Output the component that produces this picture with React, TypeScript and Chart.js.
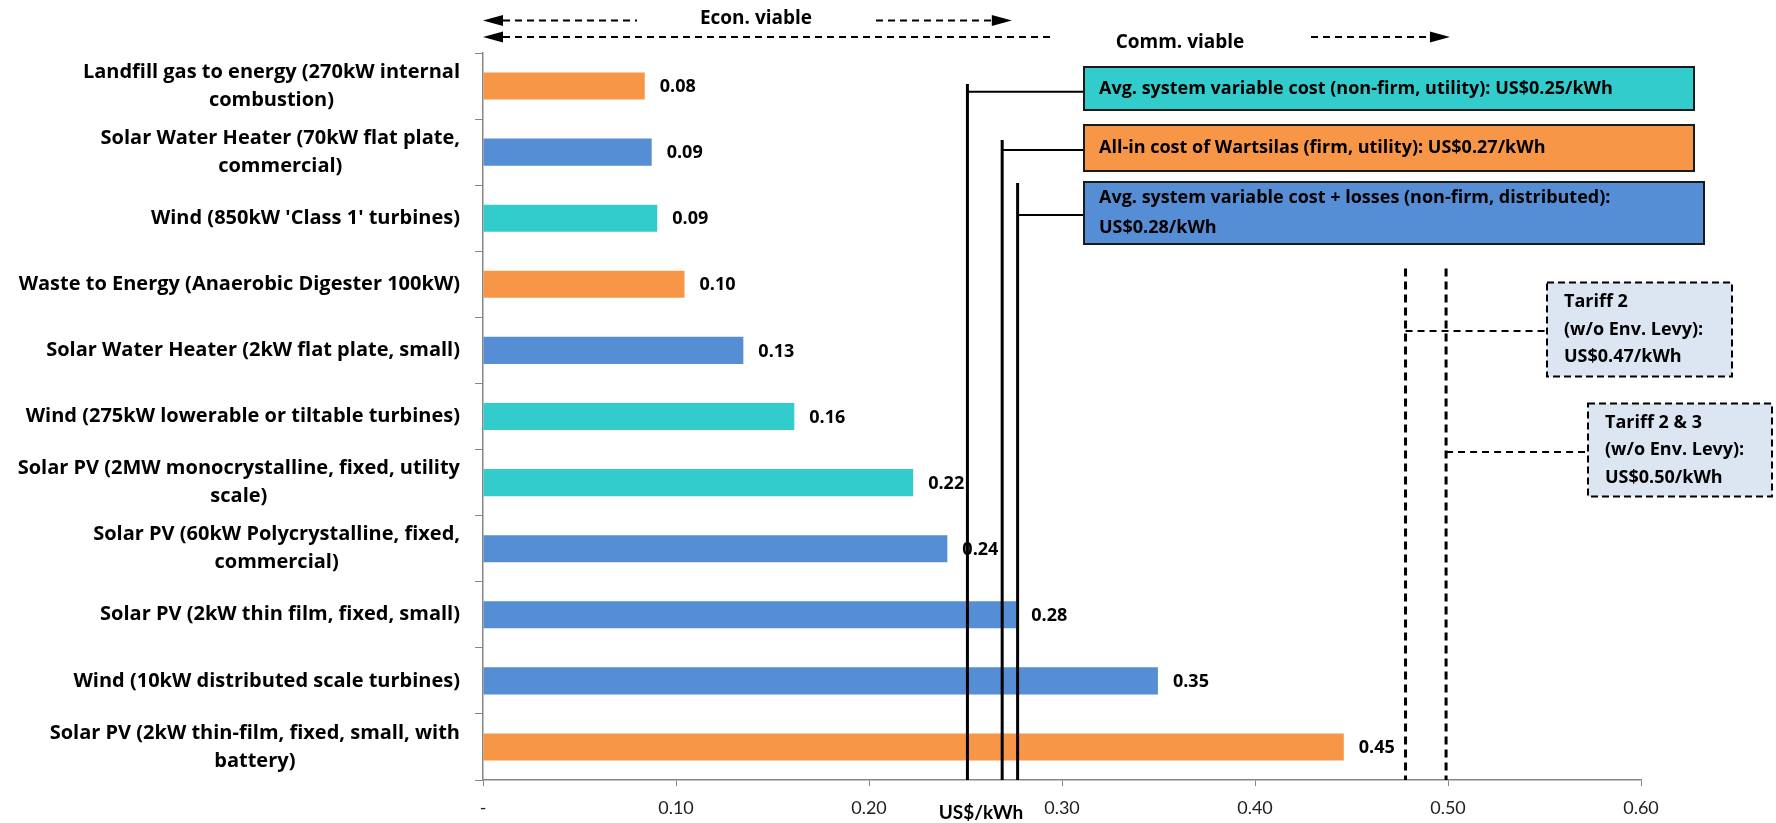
import React, { useEffect, useRef } from "react";
import { Chart, registerables } from "chart.js";

Chart.register(...registerables);

// ---------- data ----------
const categories: string[][] = [
  ["Landfill gas to energy (270kW internal", "combustion)"],
  ["Solar Water Heater (70kW flat plate,", "commercial)"],
  ["Wind (850kW 'Class 1' turbines)"],
  ["Waste to Energy (Anaerobic Digester 100kW)"],
  ["Solar Water Heater (2kW flat plate, small)"],
  ["Wind (275kW lowerable or tiltable turbines)"],
  ["Solar PV (2MW monocrystalline, fixed, utility", "scale)"],
  ["Solar PV (60kW Polycrystalline, fixed,", "commercial)"],
  ["Solar PV (2kW thin film, fixed, small)"],
  ["Wind (10kW distributed scale turbines)"],
  ["Solar PV (2kW thin-film, fixed, small, with", "battery)"],
];
const costs = [0.0838, 0.0874, 0.0903, 0.1044, 0.1349, 0.1613, 0.2229, 0.2406, 0.2763, 0.3497, 0.446];
const costLabels = ["0.08", "0.09", "0.09", "0.10", "0.13", "0.16", "0.22", "0.24", "0.28", "0.35", "0.45"];
const groups = ["firm", "dist", "utility", "firm", "dist", "utility", "utility", "dist", "dist", "dist", "firm"];
const xTickValues = [0, 0.1, 0.2, 0.3, 0.4, 0.5, 0.6];
const xTickLabels = ["-", "0.10", "0.20", "0.30", "0.40", "0.50", "0.60"];

const refValues = [0.251, 0.269, 0.277];
const refTexts: string[][] = [
  ["Avg. system variable cost (non-firm, utility): US$0.25/kWh"],
  ["All-in cost of Wartsilas (firm, utility): US$0.27/kWh"],
  ["Avg. system variable cost + losses (non-firm, distributed):", "US$0.28/kWh"],
];
const refGroups = ["utility", "firm", "dist"];

const tariffValues = [0.478, 0.499];
const tariffTexts: string[][] = [
  ["Tariff 2", "(w/o Env. Levy):", "US$0.47/kWh"],
  ["Tariff 2 & 3", "(w/o Env. Levy):", "US$0.50/kWh"],
];

const econRange = [0, 0.274];
const commRange = [0, 0.501];
const commLeftEnd = 0.294;
const axisTitle = "US$/kWh";

// ---------- styles ----------
const COLORS: Record<string, string> = {
  firm: "#F79646",
  dist: "#558ED5",
  utility: "#33CCCC",
};
const FAMILY = "'Open Sans', Lato, sans-serif";
const NUM_FAMILY = "Lato, 'Open Sans', sans-serif";
const AXIS_GRAY = "#868686";

// annotation layout (pixels)
const LABEL_RIGHT = 460;
const refLineTops = [84, 140, 183];
const refConnY = [91.7, 150, 215];
const refBoxes = [
  [1084, 67, 610, 43],
  [1084, 125, 610, 46],
  [1084, 182, 620, 62],
];
const tariffTop = 268.5;
const tariffConnY = [331, 452];
const tariffBoxes = [
  [1547, 282.5, 185, 94],
  [1588, 403.5, 184, 93],
];

function drawArrowHead(ctx: CanvasRenderingContext2D, tipX: number, y: number, dir: number) {
  const len = 20, half = 5.5;
  ctx.beginPath();
  ctx.moveTo(tipX, y);
  ctx.lineTo(tipX - dir * len, y - half);
  ctx.lineTo(tipX - dir * len, y + half);
  ctx.closePath();
  ctx.fill();
}

function dashedH(ctx: CanvasRenderingContext2D, x1: number, x2: number, y: number, w = 2, dash = [7, 5]) {
  ctx.save();
  ctx.setLineDash(dash);
  ctx.lineWidth = w;
  ctx.beginPath();
  ctx.moveTo(x1, y);
  ctx.lineTo(x2, y);
  ctx.stroke();
  ctx.restore();
}

const overlay = {
  id: "overlay",
  afterDraw(chart: any) {
    const { ctx, scales } = chart;
    const x = scales.x;
    const y = scales.y;
    ctx.save();

    // category labels
    ctx.font = `bold 20px ${FAMILY}`;
    ctx.fillStyle = "#000";
    ctx.textBaseline = "middle";
    ctx.textAlign = "center";
    categories.forEach((lines, i) => {
      const cy = y.getPixelForValue(i);
      const widest = Math.max(...lines.map((l) => ctx.measureText(l).width));
      const cx = LABEL_RIGHT - widest / 2;
      lines.forEach((l, j) => ctx.fillText(l, cx, cy + (j - (lines.length - 1) / 2) * 28));
    });

    // value labels
    ctx.textAlign = "left";
    ctx.font = `bold 18px ${FAMILY}`;
    costs.forEach((v, i) => {
      ctx.fillText(costLabels[i], x.getPixelForValue(v) + 15, y.getPixelForValue(i) + 1);
    });

    const bottom = chart.chartArea.bottom;

    // reference solid lines + boxes
    ctx.strokeStyle = "#000";
    refValues.forEach((v, i) => {
      const px = x.getPixelForValue(v);
      ctx.lineWidth = 3;
      ctx.beginPath();
      ctx.moveTo(px, refLineTops[i]);
      ctx.lineTo(px, bottom);
      ctx.stroke();
      const [bx, by, bw, bh] = refBoxes[i];
      ctx.lineWidth = 2;
      ctx.beginPath();
      ctx.moveTo(px, refConnY[i]);
      ctx.lineTo(bx, refConnY[i]);
      ctx.stroke();
      ctx.fillStyle = COLORS[refGroups[i]];
      ctx.fillRect(bx, by, bw, bh);
      ctx.strokeStyle = "#1a1a1a";
      ctx.strokeRect(bx, by, bw, bh);
      ctx.strokeStyle = "#000";
      ctx.fillStyle = "#000";
      ctx.font = `bold 18px ${FAMILY}`;
      ctx.textAlign = "left";
      const lines = refTexts[i];
      lines.forEach((l, j) => ctx.fillText(l, bx + 15, by + bh / 2 + (j - (lines.length - 1) / 2) * 30));
    });

    // tariff dashed lines + boxes
    tariffValues.forEach((v) => {
      const px = x.getPixelForValue(v);
      ctx.save();
      ctx.setLineDash([8, 5]);
      ctx.lineWidth = 3;
      ctx.beginPath();
      ctx.moveTo(px, tariffTop);
      ctx.lineTo(px, bottom);
      ctx.stroke();
      ctx.restore();
    });
    tariffValues.forEach((v, i) => {
      const px = x.getPixelForValue(v);
      const [bx, by, bw, bh] = tariffBoxes[i];
      dashedH(ctx, px, bx, tariffConnY[i], 2, [7, 5]);
      ctx.fillStyle = "#DCE6F2";
      ctx.fillRect(bx, by, bw, bh);
      ctx.save();
      ctx.setLineDash([7, 4]);
      ctx.lineWidth = 2;
      ctx.strokeRect(bx, by, bw, bh);
      ctx.restore();
      ctx.fillStyle = "#000";
      ctx.font = `bold 18px ${FAMILY}`;
      const lines = tariffTexts[i];
      lines.forEach((l, j) => ctx.fillText(l, bx + 17, by + bh / 2 + (j - (lines.length - 1) / 2) * 27.5));
    });

    // top arrows
    ctx.fillStyle = "#000";
    ctx.strokeStyle = "#000";
    const y1 = 20.5, y2 = 37;
    const e0 = x.getPixelForValue(econRange[0]);
    const e1 = x.getPixelForValue(econRange[1]);
    drawArrowHead(ctx, e0, y1, -1);
    dashedH(ctx, e0 + 20, 637, y1);
    dashedH(ctx, 876, e1 - 20, y1);
    drawArrowHead(ctx, e1, y1, 1);
    ctx.font = `bold 19px ${FAMILY}`;
    ctx.textAlign = "center";
    ctx.fillText("Econ. viable", 756, 19);

    const c0 = x.getPixelForValue(commRange[0]);
    const c1 = x.getPixelForValue(commRange[1]);
    drawArrowHead(ctx, c0, y2, -1);
    dashedH(ctx, c0 + 20, x.getPixelForValue(commLeftEnd), y2);
    dashedH(ctx, 1311, c1 - 20, y2);
    drawArrowHead(ctx, c1, y2, 1);
    ctx.fillText("Comm. viable", 1180, 43);

    // axis title
    ctx.font = `bold 19px ${NUM_FAMILY}`;
    ctx.fillText(axisTitle, 981, 813);

    ctx.restore();
  },
};

export default function App() {
  const ref = useRef<HTMLCanvasElement | null>(null);
  useEffect(() => {
    document.body.style.margin = "0";
    const canvas = ref.current;
    if (!canvas) return;
    const chart = new Chart(canvas, {
      type: "bar",
      data: {
        labels: categories.map((c) => c.join(" ")),
        datasets: [
          {
            data: costs,
            backgroundColor: groups.map((g) => COLORS[g]),
            barPercentage: 0.41,
            categoryPercentage: 1,
          },
        ],
      },
      options: {
        indexAxis: "y",
        animation: false,
        responsive: false,
        layout: { padding: { top: 53, right: 135, left: 0, bottom: 0 } },
        plugins: { legend: { display: false }, tooltip: { enabled: false } },
        scales: {
          x: {
            min: 0,
            max: 0.6,
            afterBuildTicks: (scale: any) => {
              scale.ticks = xTickValues.map((v) => ({ value: v }));
            },
            ticks: {
              callback: (v: any) => {
                const i = xTickValues.findIndex((t) => Math.abs(t - Number(v)) < 1e-9);
                return i >= 0 ? xTickLabels[i] : "";
              },
              font: { family: NUM_FAMILY, size: 18 },
              color: "#222",
              padding: 11,
              maxRotation: 0,
            },
            grid: { drawOnChartArea: false, drawTicks: true, tickLength: 6, color: AXIS_GRAY },
            border: { color: AXIS_GRAY, width: 1.5 },
            afterFit: (scale: any) => {
              scale.height = 43;
            },
          },
          y: {
            ticks: { display: false },
            grid: { drawOnChartArea: false, drawTicks: true, tickLength: 8, color: AXIS_GRAY, offset: true },
            border: { color: AXIS_GRAY, width: 1.5 },
            afterFit: (scale: any) => {
              scale.width = 483;
            },
          },
        },
      },
      plugins: [overlay],
    });
    return () => chart.destroy();
  }, []);
  return (
    <div style={{ width: 1776, height: 823 }}>
      <canvas ref={ref} width={1776} height={823} />
    </div>
  );
}
